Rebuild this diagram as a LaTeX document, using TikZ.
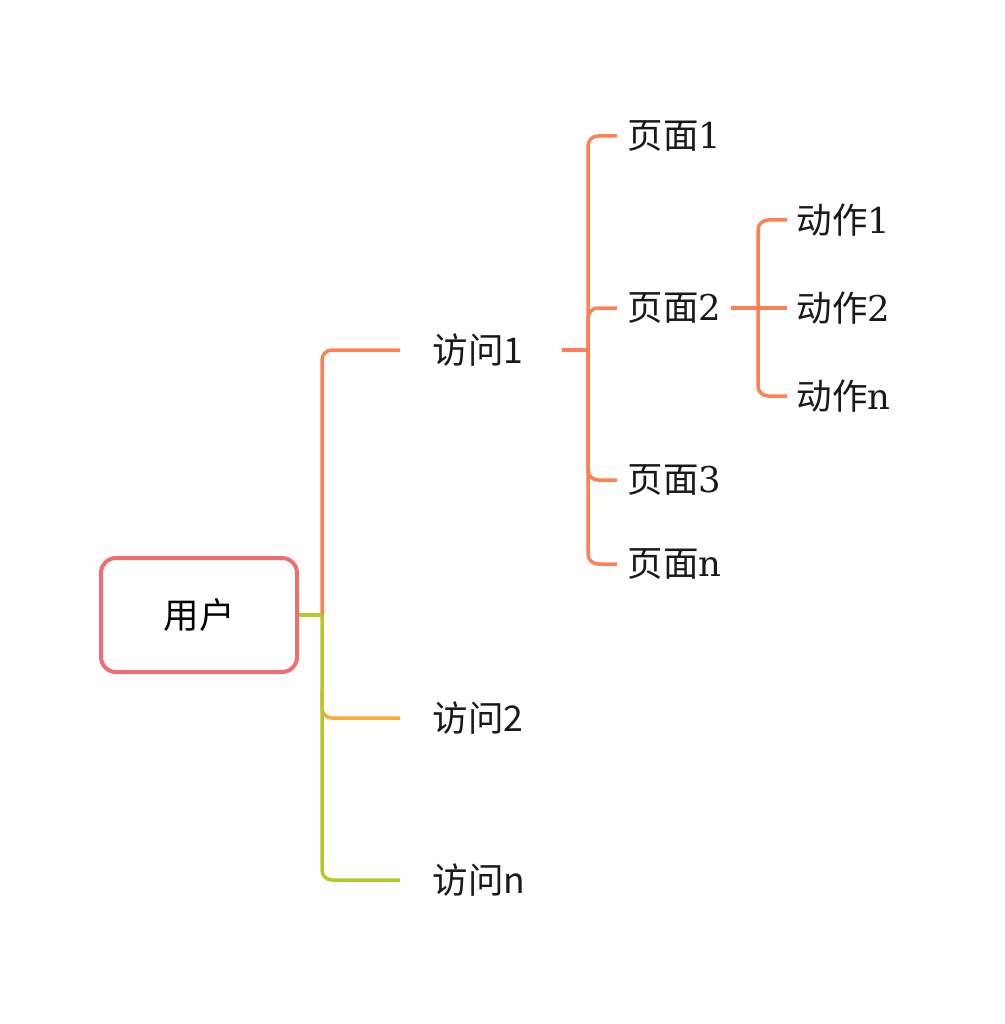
\documentclass[tikz,border=0pt]{standalone}
\usepackage{fontspec}
\setmainfont{Noto Sans CJK SC}
\newfontfamily\numfont{DejaVu Serif}

\definecolor{rootred}{RGB}{240,110,115}
\definecolor{coral}{RGB}{255,128,84}
\definecolor{lime}{RGB}{184,200,40}
\definecolor{amber}{RGB}{252,170,50}

\begin{document}
\begin{tikzpicture}[x=1pt,y=-1pt,line width=3.5pt,
  rootbox/.style={draw=rootred,line width=4pt,rounded corners=15pt,
    minimum width=196pt,minimum height=114pt,
    font=\fontsize{35.5}{42}\selectfont},
  lbl/.style={anchor=west,inner sep=0pt,text=black!90,
    font=\fontsize{35.5}{42}\selectfont},
  link/.style={rounded corners=10pt}]
\useasboundingbox (0,0) rectangle (1004,1024);

% root and visits
\node[rootbox] (user) at (199,615) {用户};
\node[lbl] (v1) at (431,350) {访问1};
\node[lbl] (v2) at (431,718) {访问2};
\node[lbl] (vn) at (431,880) {访问n};

% pages
\node[lbl] (p1) at (626,136) {页面{\numfont 1}};
\node[lbl] (p2) at (626,308) {页面{\numfont 2}};
\node[lbl] (p3) at (626,480) {页面{\numfont 3}};
\node[lbl] (pn) at (626,564) {页面{\numfont n}};

% actions
\node[lbl] (a1) at (795,220) {动作{\numfont 1}};
\node[lbl] (a2) at (795,308) {动作{\numfont 2}};
\node[lbl] (an) at (795,396) {动作{\numfont n}};

% junctions and line ends
\coordinate (j0) at (322,615);
\coordinate (j0b) at (322,690);
\coordinate (j1) at (588,350);
\coordinate (j2) at (758,308);

\coordinate (v1-e) at ([xshift=-31]v1.west);
\coordinate (v2-e) at ([xshift=-31]v2.west);
\coordinate (vn-e) at ([xshift=-31]vn.west);
\coordinate (v1-o) at ([xshift=-26]j1);

\coordinate (p1-e) at ([xshift=-9]p1.west);
\coordinate (p2-e) at ([xshift=-9]p2.west);
\coordinate (p3-e) at ([xshift=-9]p3.west);
\coordinate (pn-e) at ([xshift=-9]pn.west);
\coordinate (p2-o) at ([xshift=-27]j2);

\coordinate (a1-e) at ([xshift=-8]a1.west);
\coordinate (a2-e) at ([xshift=-8]a2.west);
\coordinate (an-e) at ([xshift=-8]an.west);

% user -> visits
\draw[coral,link] (j0) |- (v1-e);
\draw[amber,link] (j0b) |- (v2-e);
\draw[lime,link] (j0) |- (vn-e);
\draw[lime] (user.east) -- (j0);

% visit 1 -> pages
\draw[coral] (v1-o) -- (j1);
\draw[coral,link] (j1) |- (p1-e);
\draw[coral,link] (j1) |- (p2-e);
\draw[coral,link] (j1) |- (p3-e);
\draw[coral,link] (j1) |- (pn-e);

% page 2 -> actions
\draw[coral] (p2-o) -- (a2-e);
\draw[coral,link] (j2) |- (a1-e);
\draw[coral,link] (j2) |- (an-e);

\end{tikzpicture}
\end{document}
